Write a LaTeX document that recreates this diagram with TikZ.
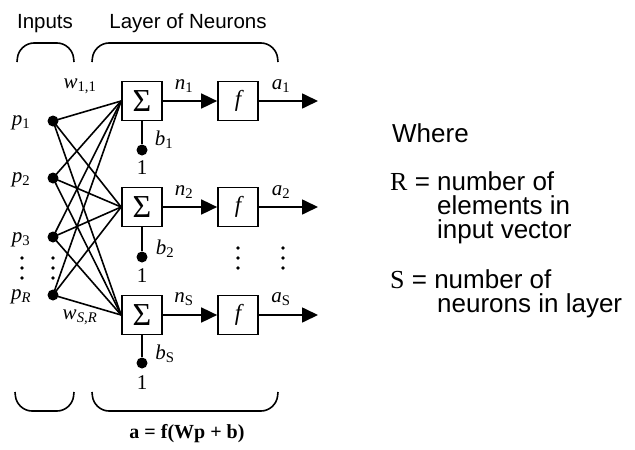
\documentclass[tikz,border=0pt]{standalone}
\usepackage{fontspec}
\setmainfont{Liberation Serif}
\setsansfont{Liberation Sans}
\usetikzlibrary{arrows.meta}

\tikzset{
	neuron/.style={draw, line width=1.7pt, minimum width=40pt, minimum height=39pt, inner sep=0pt},
	bullet/.style={circle, fill=black, inner sep=0pt, minimum size=11pt},
	wire/.style={line width=1.6pt},
	flow/.style={line width=1.7pt, -{Triangle[length=16pt,width=15pt]}},
	lbl/.style={font=\fontsize{21}{21}\selectfont, inner sep=0pt},
	title/.style={font=\sffamily\fontsize{20.5}{20.5}\selectfont, anchor=base, inner sep=0pt},
	txt/.style={font=\sffamily\fontsize{26}{26}\selectfont, anchor=base west, inner sep=0pt},
	brace/.style={line width=1.6pt, rounded corners=15pt},
}

\begin{document}
\begin{tikzpicture}[x=1pt, y=-1pt]
\useasboundingbox (0,0) rectangle (635,450);

% headings and braces
\node[title] (tinputs) at (45,28) {Inputs};
\node[title] (tlayer) at (188,28) {Layer of Neurons};
\draw[brace] (17,62) -- (19,43) -- (72,43) -- (74,62);
\draw[brace] (92,62) -- (94,43) -- (276,43) -- (278,62);
\draw[brace] (15,392) -- (17,411) -- (72,411) -- (74,392);
\draw[brace] (92,392) -- (94,411) -- (276,411) -- (278,392);
\node[font=\bfseries\fontsize{20}{20}\selectfont, anchor=base, inner sep=0pt] (eqn) at (187,438) {a = f(Wp + b)};

% inputs
\node[bullet] (in1) at (53,121) {};
\node[bullet] (in2) at (53,178) {};
\node[bullet] (in3) at (53,237) {};
\node[bullet] (in4) at (53,295) {};
\node[lbl] (p1) at (21,123) {\textit{p}\textsubscript{1}};
\node[lbl] (p2) at (21,180) {\textit{p}\textsubscript{2}};
\node[lbl] (p3) at (21,240) {\textit{p}\textsubscript{3}};
\node[lbl] (p4) at (21,297) {\textit{p}\textsubscript{\textit{R}}};
\foreach \x in {22,53}
	\foreach \y in {258,268,278}
		\fill (\x,\y) circle (1.9pt);

% neurons
\node[neuron, font=\fontsize{32}{32}\selectfont] (sig1) at (142,101) {Σ};
\node[neuron, font=\fontsize{32}{32}\selectfont] (sig2) at (142,207) {Σ};
\node[neuron, font=\fontsize{32}{32}\selectfont] (sig3) at (142,315) {Σ};
\node[neuron, font=\itshape\fontsize{23}{23}\selectfont] (f1) at (238,101) {f};
\node[neuron, font=\itshape\fontsize{23}{23}\selectfont] (f2) at (238,207) {f};
\node[neuron, font=\itshape\fontsize{23}{23}\selectfont] (f3) at (238,315) {f};
\coordinate (out1) at (318,101);
\coordinate (out2) at (318,207);
\coordinate (out3) at (318,315);

% weights
\foreach \i in {1,...,4}
	\foreach \j in {1,2,3}
		\draw[wire] (in\i.center) -- (sig\j.west);
\node[lbl] (w11) at (80,86) {\textit{w}\textsubscript{1,1}};
\node[lbl] (wsr) at (80,317) {\textit{w}\textsubscript{\textit{S,R}}};

% biases
\node[bullet] (bias1) at (142,150) {};
\node[bullet] (bias2) at (142,257) {};
\node[bullet] (bias3) at (142,363) {};
\draw[wire] (sig1.south) -- (bias1);
\draw[wire] (sig2.south) -- (bias2);
\draw[wire] (sig3.south) -- (bias3);
\node[lbl] (b1) at (164,140) {\textit{b}\textsubscript{1}};
\node[lbl] (b2) at (165,249) {\textit{b}\textsubscript{2}};
\node[lbl] (b3) at (165,354) {\textit{b}\textsubscript{S}};
\node[lbl] (one1) at (142,168) {1};
\node[lbl] (one2) at (142,276) {1};
\node[lbl] (one3) at (142,383) {1};

% signals
\draw[flow] (sig1) -- (f1);
\draw[flow] (sig2) -- (f2);
\draw[flow] (sig3) -- (f3);
\draw[flow] (f1) -- (out1);
\draw[flow] (f2) -- (out2);
\draw[flow] (f3) -- (out3);
\node[lbl] (n1) at (184,86) {\textit{n}\textsubscript{1}};
\node[lbl] (n2) at (184,192) {\textit{n}\textsubscript{2}};
\node[lbl] (n3) at (184,299) {\textit{n}\textsubscript{S}};
\node[lbl] (a1) at (281,86) {\textit{a}\textsubscript{1}};
\node[lbl] (a2) at (281,192) {\textit{a}\textsubscript{2}};
\node[lbl] (a3) at (281,299) {\textit{a}\textsubscript{S}};
\foreach \x in {238,283}
	\foreach \y in {248,258,268}
		\fill (\x,\y) circle (1.9pt);

% legend
\node[txt] (where) at (392,142) {Where};
\node[txt] (rdef) at (390,190) {{\rmfamily R} = number of};
\node[txt] (rdef2) at (437,214) {elements in};
\node[txt] (rdef3) at (437,238) {input vector};
\node[txt] (sdef) at (390,288) {{\rmfamily S} = number of};
\node[txt] (sdef2) at (437,312) {neurons in layer};
\end{tikzpicture}
\end{document}
